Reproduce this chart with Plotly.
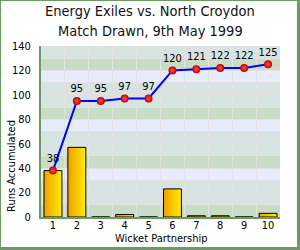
import plotly.graph_objects as go

wickets = [1, 2, 3, 4, 5, 6, 7, 8, 9, 10]
partnership = [38, 57, 0, 2, 0, 23, 1, 1, 0, 3]
cumulative = [38, 95, 95, 97, 97, 120, 121, 122, 122, 125]
y_ticks = [0, 20, 40, 60, 80, 100, 120, 140]
title_lines = ["Energy Exiles vs. North Croydon", "Match Drawn, 9th May 1999"]
x_title = "Wicket Partnership"
y_title = "Runs Accumulated"

W, H = 300, 250
L, R, T, B = 41, 20, 46, 33
PW, PH = W - L - R, H - T - B
FONT = "DejaVu Sans Condensed, DejaVu Sans"
GREEN = "#6a9c62"

fig = go.Figure()

half = 0.375
for w, v in zip(wickets, partnership):
    fig.add_trace(go.Scatter(
        x=[w - half, w + half, w + half, w - half, w - half],
        y=[0, 0, v, v, 0],
        mode="lines", fill="toself",
        line=dict(color="black", width=1),
        fillgradient=dict(type="horizontal",
                          colorscale=[[0, "#eea000"], [1, "#ffee00"]]),
        hoverinfo="skip", showlegend=False))

fig.add_trace(go.Scatter(
    x=wickets, y=cumulative, mode="lines+markers+text",
    text=[str(c) for c in cumulative], textposition="top center",
    textfont=dict(family=FONT, size=11, color="black"),
    line=dict(color="#0000ff", width=2),
    marker=dict(size=8, color="#bb0000",
                gradient=dict(type="radial", color="#ff5050"),
                line=dict(width=0)),
    showlegend=False))

band_colors = ["#c8dcc6", "#d6e3e0", "#d6e3e0", "#e6ecfb"]
shapes = []
for i, y0 in enumerate(range(0, 140, 10)):
    shapes.append(dict(type="rect", xref="paper", yref="y", x0=0, x1=1,
                       y0=y0, y1=y0 + 10, fillcolor=band_colors[i % 4],
                       line=dict(width=0), layer="below"))

# outer frame
def px(xp):
    return (xp - L) / PW
def py(yp):
    return 1 - (yp - T) / PH
shapes += [
    dict(type="rect", xref="paper", yref="paper", x0=px(0), x1=px(W), y0=py(1), y1=py(0),
         fillcolor=GREEN, line=dict(width=0), layer="below"),
    dict(type="rect", xref="paper", yref="paper", x0=px(297), x1=px(W), y0=py(H), y1=py(0),
         fillcolor=GREEN, line=dict(width=0), layer="below"),
    dict(type="rect", xref="paper", yref="paper", x0=px(0), x1=px(1), y0=py(H), y1=py(0),
         fillcolor=GREEN, line=dict(width=0), layer="below"),
    dict(type="rect", xref="paper", yref="paper", x0=px(0), x1=px(W), y0=py(H), y1=py(247),
         fillcolor=GREEN, line=dict(width=0), layer="below"),
]

annotations = [
    dict(text=title_lines[0], xref="paper", yref="paper", x=px(150), y=py(11),
         xanchor="center", yanchor="middle",
         showarrow=False, font=dict(family=FONT, size=14.5, color="#111111")),
    dict(text=title_lines[1], xref="paper", yref="paper", x=px(150), y=py(31),
         xanchor="center", yanchor="middle",
         showarrow=False, font=dict(family=FONT, size=14.5, color="#111111")),
    dict(text=x_title, xref="paper", yref="paper", x=px(161), y=py(238),
         xanchor="center", yanchor="middle",
         showarrow=False, font=dict(family=FONT, size=11, color="black")),
    dict(text=y_title, xref="paper", yref="paper", x=px(11), y=py(166),
         xanchor="center", yanchor="middle", textangle=-90,
         showarrow=False, font=dict(family=FONT, size=11, color="black")),
]

fig.update_layout(
    width=W, height=H,
    margin=dict(l=L, r=R, t=T, b=B, pad=0, autoexpand=False),
    paper_bgcolor="white", plot_bgcolor="#d6e3e0",
    shapes=shapes, annotations=annotations,
    font=dict(family=FONT, size=11, color="black"),
    xaxis=dict(range=[0.5, 10.5], tickvals=wickets, ticks="", showgrid=False,
               zeroline=False, showline=True, linecolor=GREEN, linewidth=2,
               tickfont=dict(size=11), ticklen=0, automargin=False,
               ticklabelstandoff=-3,
               minor=dict(tick0=0.5, dtick=1, showgrid=True, gridcolor="#e2e2e2",
                          gridwidth=1, ticks=""),
               fixedrange=True),
    yaxis=dict(range=[0, 140], tickvals=y_ticks, ticks="", showgrid=True,
               gridcolor="#e2e2e2", gridwidth=1, zeroline=False,
               showline=True, linecolor=GREEN, linewidth=2,
               tickfont=dict(size=11), automargin=False, ticklabelstandoff=6,
               minor=dict(dtick=10, showgrid=True, gridcolor="#e2e2e2", gridwidth=1),
               fixedrange=True),
)

fig.write_html("out.html", config=dict(displayModeBar=False))
